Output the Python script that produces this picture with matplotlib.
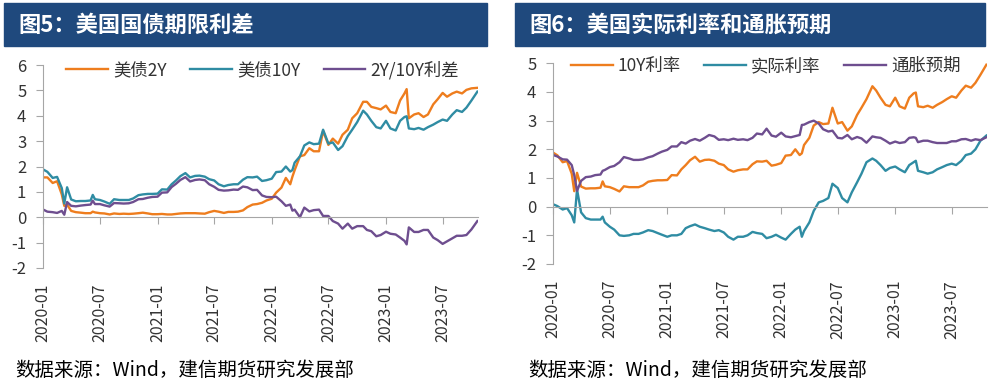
import numpy as np
import pandas as pd
from matplotlib import pyplot as plt
from matplotlib.patches import Rectangle

plt.rcParams['font.family'] = ['Noto Sans CJK SC', 'DejaVu Sans']
plt.rcParams['axes.unicode_minus'] = False

# ---- data (% ) ----
dates = [
  '2020-01-02', '2020-01-15', '2020-02-01', '2020-02-15', '2020-03-01', '2020-03-09', '2020-03-18', '2020-03-31',
  '2020-04-15', '2020-05-01', '2020-05-15', '2020-06-01', '2020-06-08', '2020-06-15', '2020-07-01', '2020-07-15',
  '2020-08-01', '2020-08-15', '2020-09-01', '2020-09-15', '2020-10-01', '2020-10-15', '2020-11-01', '2020-11-15',
  '2020-12-01', '2020-12-15',
  '2021-01-01', '2021-01-15', '2021-02-01', '2021-02-15', '2021-03-01', '2021-03-15', '2021-03-31', '2021-04-15',
  '2021-05-01', '2021-05-15', '2021-06-01', '2021-06-15', '2021-07-01', '2021-07-15', '2021-08-01', '2021-08-15',
  '2021-09-01', '2021-09-15', '2021-10-01', '2021-10-15', '2021-11-01', '2021-11-15', '2021-12-01', '2021-12-15',
  '2022-01-01', '2022-01-15', '2022-02-01', '2022-02-15', '2022-03-01', '2022-03-08', '2022-03-15', '2022-04-01',
  '2022-04-15', '2022-05-01', '2022-05-15', '2022-06-01', '2022-06-14', '2022-07-01', '2022-07-15', '2022-08-01',
  '2022-08-15', '2022-09-01', '2022-09-15', '2022-10-01', '2022-10-20', '2022-11-01', '2022-11-15', '2022-12-01',
  '2022-12-15',
  '2023-01-01', '2023-01-15', '2023-02-01', '2023-02-15', '2023-03-01', '2023-03-08', '2023-03-15', '2023-04-01',
  '2023-04-15', '2023-05-01', '2023-05-15', '2023-06-01', '2023-06-15', '2023-07-01', '2023-07-15', '2023-08-01',
  '2023-08-15', '2023-09-01', '2023-09-15', '2023-10-01', '2023-10-20',
]

us2y = [
  1.57, 1.57, 1.35, 1.42, 0.90, 0.45, 0.50, 0.25, 0.20, 0.18, 0.16, 0.16, 0.22, 0.19, 0.16, 0.15,
  0.11, 0.15, 0.13, 0.14, 0.13, 0.14, 0.16, 0.18, 0.15, 0.12,
  0.12, 0.13, 0.11, 0.11, 0.13, 0.15, 0.16, 0.16, 0.16, 0.15, 0.14, 0.20, 0.25, 0.22, 0.17, 0.21,
  0.21, 0.22, 0.27, 0.40, 0.50, 0.52, 0.57, 0.66,
  0.73, 0.97, 1.17, 1.55, 1.30, 1.60, 1.85, 2.40, 2.45, 2.72, 2.60, 2.60, 3.40, 2.85, 3.10, 2.90,
  3.25, 3.45, 3.90, 4.10, 4.55, 4.55, 4.35, 4.30, 4.25,
  4.40, 4.15, 4.10, 4.60, 4.88, 5.05, 3.90, 4.05, 4.10, 3.95, 4.05, 4.45, 4.65, 4.90, 4.75, 4.88,
  4.95, 4.88, 5.02, 5.08, 5.10,
]

us10y = [
  1.88, 1.79, 1.55, 1.59, 1.15, 0.54, 1.18, 0.70, 0.63, 0.64, 0.64, 0.66, 0.88, 0.71, 0.68, 0.62,
  0.53, 0.71, 0.68, 0.68, 0.68, 0.74, 0.87, 0.90, 0.92, 0.92,
  0.93, 1.10, 1.09, 1.30, 1.45, 1.62, 1.74, 1.57, 1.63, 1.64, 1.60, 1.50, 1.45, 1.30, 1.22, 1.27,
  1.30, 1.30, 1.48, 1.58, 1.57, 1.60, 1.43, 1.46,
  1.52, 1.78, 1.80, 2.00, 1.80, 1.86, 2.15, 2.40, 2.83, 2.95, 2.88, 2.90, 3.45, 2.90, 2.95, 2.65,
  2.80, 3.20, 3.45, 3.75, 4.20, 4.05, 3.80, 3.55, 3.50,
  3.80, 3.50, 3.42, 3.80, 3.95, 3.98, 3.50, 3.47, 3.52, 3.45, 3.55, 3.65, 3.75, 3.85, 3.80, 4.05,
  4.22, 4.15, 4.32, 4.60, 4.95,
]

spread = [
  0.30, 0.22, 0.20, 0.17, 0.25, 0.10, 0.60, 0.45, 0.43, 0.46, 0.48, 0.50, 0.65, 0.52, 0.52, 0.47,
  0.42, 0.56, 0.55, 0.54, 0.55, 0.60, 0.71, 0.72, 0.77, 0.80,
  0.81, 0.97, 0.98, 1.19, 1.32, 1.47, 1.58, 1.41, 1.47, 1.49, 1.46, 1.30, 1.20, 1.08, 1.05, 1.06,
  1.09, 1.08, 1.21, 1.18, 1.07, 1.08, 0.86, 0.80,
  0.79, 0.81, 0.63, 0.45, 0.50, 0.26, 0.30, 0.00, 0.38, 0.23, 0.28, 0.30, 0.05, 0.05, -0.15, -0.25,
  -0.45, -0.25, -0.45, -0.35, -0.35, -0.50, -0.55, -0.75, -0.70,
  -0.57, -0.65, -0.68, -0.80, -0.93, -1.07, -0.40, -0.58, -0.58, -0.50, -0.50, -0.80, -0.90, -1.05, -0.95, -0.83,
  -0.73, -0.73, -0.70, -0.48, -0.15,
]

real_rate = [
  0.08, 0.02, -0.10, -0.05, -0.30, -0.55, 0.60, -0.20, -0.40, -0.45, -0.45, -0.45, -0.35, -0.55, -0.70, -0.80,
  -1.00, -1.02, -1.00, -0.95, -0.95, -0.90, -0.82, -0.85, -0.92, -0.98,
  -1.05, -1.00, -1.00, -0.95, -0.75, -0.68, -0.62, -0.70, -0.75, -0.80, -0.85, -0.82, -0.90, -1.05, -1.15, -1.05,
  -1.05, -1.00, -0.88, -0.92, -0.95, -1.10, -1.05, -0.98,
  -1.08, -1.15, -0.95, -0.80, -0.70, -1.05, -0.85, -0.55, -0.15, 0.15, 0.20, 0.30, 0.80, 0.65, 0.30, 0.15,
  0.50, 0.85, 1.15, 1.55, 1.68, 1.60, 1.45, 1.25, 1.35,
  1.40, 1.30, 1.20, 1.45, 1.55, 1.60, 1.25, 1.20, 1.15, 1.20, 1.30, 1.38, 1.45, 1.50, 1.45, 1.60,
  1.80, 1.85, 2.00, 2.30, 2.48,
]

breakeven = [
  1.80, 1.75, 1.65, 1.64, 1.45, 1.10, 0.55, 0.90, 1.03, 1.05, 1.10, 1.12, 1.25, 1.28, 1.38, 1.42,
  1.55, 1.73, 1.68, 1.63, 1.63, 1.65, 1.72, 1.76, 1.85, 1.92,
  1.98, 2.10, 2.10, 2.25, 2.20, 2.30, 2.36, 2.30, 2.40, 2.50, 2.45, 2.33, 2.35, 2.32, 2.37, 2.33,
  2.35, 2.32, 2.40, 2.55, 2.52, 2.72, 2.48, 2.44,
  2.58, 2.45, 2.42, 2.46, 2.50, 2.85, 2.86, 2.95, 3.00, 2.90, 2.70, 2.62, 2.65, 2.40, 2.38, 2.50,
  2.35, 2.43, 2.38, 2.23, 2.45, 2.42, 2.40, 2.30, 2.20,
  2.27, 2.22, 2.25, 2.40, 2.42, 2.40, 2.25, 2.30, 2.30, 2.25, 2.22, 2.22, 2.22, 2.28, 2.28, 2.35,
  2.36, 2.30, 2.35, 2.32, 2.42,
]

tick_months = ['2020-01', '2020-07', '2021-01', '2021-07', '2022-01', '2022-07', '2023-01', '2023-07']

left_title = '图5：美国国债期限利差'
right_title = '图6：美国实际利率和通胀预期'
left_names = ['美债2Y', '美债10Y', '2Y/10Y利差']
right_names = ['10Y利率', '实际利率', '通胀预期']
source = '数据来源：Wind，建信期货研究发展部'

ORANGE = '#EE7D1E'
TEAL = '#2F8CA3'
PURPLE = '#6E4E8F'
BANNER = '#1F497D'
AXCOL = '#A6A6A6'
TXT = '#333333'

W, H = 1004, 385
fig = plt.figure(figsize=(W / 100, H / 100), dpi=100)
x = pd.to_datetime(dates)
ticks = pd.to_datetime([m + '-01' for m in tick_months])


def px_axes(l, t, r, b):
  return fig.add_axes([l / W, 1 - b / H, (r - l) / W, (b - t) / H])


def banner(l, r, text):
  fig.patches.append(Rectangle((l / W, 1 - 46 / H), (r - l) / W, 43 / H,
                               transform=fig.transFigure, color=BANNER, zorder=0))
  fig.text((l + 14) / W, 1 - 25 / H, text, color='white', fontsize=16, fontweight='bold',
           va='center', ha='left')


def style(ax, ymin, ymax, pad_lab):
  ax.set_xlim(pd.Timestamp('2020-01-01'), pd.Timestamp('2023-10-22'))
  ax.set_ylim(ymin, ymax)
  ax.set_yticks(range(ymin, ymax + 1))
  for s in ['top', 'right']:
    ax.spines[s].set_visible(False)
  ax.spines['left'].set_color(AXCOL)
  ax.spines['bottom'].set_color(AXCOL)
  ax.spines['bottom'].set_position(('data', 0))
  ax.set_xticks(ticks)
  ax.tick_params(axis='x', direction='out', length=5, color=AXCOL, labelbottom=False)
  ax.tick_params(axis='y', direction='out', length=5, color=AXCOL, labelsize=12,
                 labelcolor=TXT, pad=7)
  sec = ax.secondary_xaxis('bottom')
  sec.spines['bottom'].set_visible(False)
  sec.set_xticks(ticks)
  sec.set_xticklabels(tick_months, rotation=90, fontsize=11.5, color=TXT)
  sec.tick_params(length=0, pad=pad_lab)


def legend(ax, cx, cy):
  ax.legend(loc='center', bbox_to_anchor=(cx, cy), ncol=3, frameon=False, fontsize=12.5,
            handlelength=2.4, handletextpad=0.3, columnspacing=1.35, labelcolor=TXT)


# ---- left panel ----
banner(4, 487, left_title)
ax1 = px_axes(43, 65, 478, 268)
ax1.plot(x, us2y, color=ORANGE, lw=1.7, label=left_names[0])
ax1.plot(x, us10y, color=TEAL, lw=1.7, label=left_names[1])
ax1.plot(x, spread, color=PURPLE, lw=1.7, label=left_names[2])
style(ax1, -2, 6, 11)
legend(ax1, 0.505, 0.975)
fig.text(15 / W, 1 - 370 / H, source, fontsize=14, style='italic', va='center', color='black')

# ---- right panel ----
banner(515, 985, right_title)
ax2 = px_axes(553, 63.3, 987, 264)
ax2.plot(x, us10y, color=ORANGE, lw=1.7, label=right_names[0])
ax2.plot(x, real_rate, color=TEAL, lw=1.7, label=right_names[1])
ax2.plot(x, breakeven, color=PURPLE, lw=1.7, label=right_names[2])
style(ax2, -2, 5, 11.5)
legend(ax2, 0.49, 0.987)
fig.text(528 / W, 1 - 370 / H, source, fontsize=14, style='italic', va='center', color='black')

fig.savefig('out.png', dpi=100)
